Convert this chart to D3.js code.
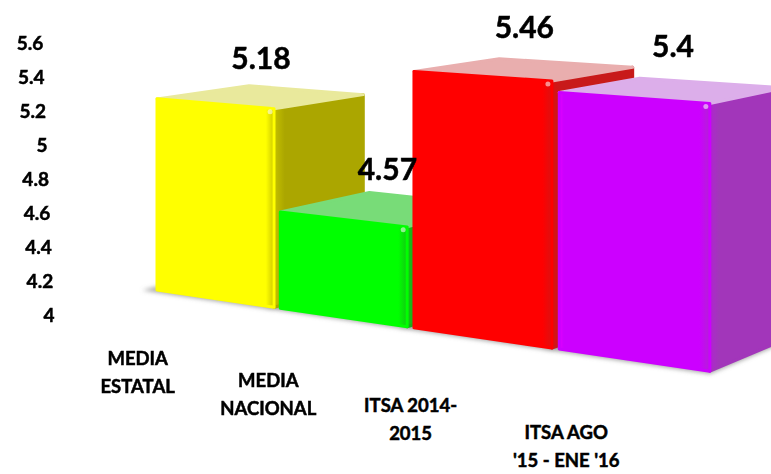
<!DOCTYPE html>
<html lang="es">
<head>
<meta charset="UTF-8">
<script src="https://cdn.jsdelivr.net/npm/d3@7"></script>
<style>
  body { margin: 0; background: #fff; }
  svg { display: block; }
  text { font-family: Lato, "Open Sans", sans-serif; font-weight: bold; fill: #000; stroke: #000; stroke-width: 0.5px; }
</style>
</head>
<body>
<svg></svg>
<script>
// chart data
var categories = ["MEDIA ESTATAL", "MEDIA NACIONAL", "ITSA 2014-2015", "ITSA AGO '15 - ENE '16"];
var labelLines = [["MEDIA", "ESTATAL"], ["MEDIA", "NACIONAL"], ["ITSA 2014-", "2015"], ["ITSA AGO", "'15 - ENE '16"]];
var values = [5.18, 4.57, 5.46, 5.4];
var yTicks = [4, 4.2, 4.4, 4.6, 4.8, 5, 5.2, 5.4, 5.6];
var yTickLabels = ["4", "4.2", "4.4", "4.6", "4.8", "5", "5.2", "5.4", "5.6"];
var frontColors = ["#ffff00", "#00ff00", "#ff0000", "#cc00ff"];
var sideColors = ["#aba600", "#1ea51e", "#c81a1a", "#a236ba"];
var topColors = ["#e9e99c", "#78dc78", "#e9aeae", "#dcaeea"];

var W = 771, H = 474;
var svg = d3.select("svg").attr("width", W).attr("height", H);

// simple perspective camera
var f = 2288, cx = 385, cy = -160, camH = 196.7;
var orig = {X: -99.65, Z: 1000};
var d1 = [0.821, -0.570], d2 = [0.570, 0.821];
var depth = 65;

function project(u, h, z) {
  var X = orig.X + d1[0] * u + d2[0] * z;
  var Z = orig.Z + d1[1] * u + d2[1] * z;
  return [cx + f * X / Z, cy + f * (camH - h) / Z];
}

var x = d3.scaleBand().domain(categories).range([0, 267.9]).paddingInner(0.0487).paddingOuter(0);
var y = d3.scaleLinear().domain([4, 5.6]).range([0, 113.3]);

var data = categories.map(function(c, i) {
  return {cat: c, value: values[i], i: i};
});

var line = d3.line();
var defs = svg.append("defs");

defs.append("filter").attr("id", "blur")
  .attr("x", "-20%").attr("y", "-50%").attr("width", "140%").attr("height", "200%")
  .append("feGaussianBlur").attr("stdDeviation", 2);

data.forEach(function(d) {
  var g = defs.append("linearGradient").attr("id", "front" + d.i)
    .attr("x1", 0).attr("x2", 1).attr("y1", 0).attr("y2", 0);
  var c = d3.color(frontColors[d.i]);
  g.append("stop").attr("offset", 0).attr("stop-color", c.brighter(0.3));
  g.append("stop").attr("offset", 0.03).attr("stop-color", c);
  g.append("stop").attr("offset", 0.93).attr("stop-color", c);
  g.append("stop").attr("offset", 1).attr("stop-color", d3.interpolateRgb(frontColors[d.i], sideColors[d.i])(0.6));

  var s = defs.append("linearGradient").attr("id", "side" + d.i)
    .attr("x1", 0).attr("x2", 1).attr("y1", 0).attr("y2", 0);
  s.append("stop").attr("offset", 0).attr("stop-color", d3.interpolateRgb(frontColors[d.i], sideColors[d.i])(0.7));
  s.append("stop").attr("offset", 0.12).attr("stop-color", sideColors[d.i]);
  s.append("stop").attr("offset", 1).attr("stop-color", sideColors[d.i]);
});

// floor shadows
var shadow = svg.append("g").attr("filter", "url(#blur)");
data.forEach(function(d) {
  var u0 = x(d.cat) - 5, u1 = x(d.cat) + x.bandwidth() + 2;
  var pts = [project(u0, 0, -4), project(u1, 0, -4), project(u1, 0, depth + 3), project(u0, 0, depth + 3)];
  shadow.append("path").attr("d", line(pts) + "Z").attr("fill", "#8a8a8a").attr("opacity", 0.75);
});

// bars, left to right (right ones are closer)
var bars = svg.append("g");
data.forEach(function(d) {
  var u0 = x(d.cat), u1 = x(d.cat) + x.bandwidth();
  var h = y(d.value);
  var g = bars.append("g");
  var side = [project(u1, 0, 0), project(u1, 0, depth), project(u1, h, depth), project(u1, h, 0)];
  var top = [project(u0, h, 0), project(u1, h, 0), project(u1, h, depth), project(u0, h, depth)];
  var front = [project(u0, 0, 0), project(u1, 0, 0), project(u1, h, 0), project(u0, h, 0)];
  g.append("path").attr("d", line(side) + "Z").attr("fill", "url(#side" + d.i + ")")
    .attr("stroke", sideColors[d.i]).attr("stroke-width", 3).attr("stroke-linejoin", "round");
  g.append("path").attr("d", line(top) + "Z").attr("fill", topColors[d.i])
    .attr("stroke", topColors[d.i]).attr("stroke-width", 3).attr("stroke-linejoin", "round");
  g.append("path").attr("d", line(front) + "Z").attr("fill", "url(#front" + d.i + ")")
    .attr("stroke", frontColors[d.i]).attr("stroke-width", 3).attr("stroke-linejoin", "round");
  // small highlight on top right corner
  var hl = project(u1, h, 0);
  g.append("circle").attr("cx", hl[0] - 4).attr("cy", hl[1] + 3).attr("r", 2.5)
    .attr("fill", "#fff").attr("opacity", 0.55);
});

// value labels
svg.append("g").selectAll("text").data(data).enter().append("text")
  .attr("text-anchor", "middle")
  .attr("font-size", 30)
  .attr("x", function(d) { return project(x(d.cat) + x.bandwidth() / 2, y(d.value + 0.24), depth / 2)[0]; })
  .attr("y", function(d) { return project(x(d.cat) + x.bandwidth() / 2, y(d.value + 0.24), depth / 2)[1]; })
  .attr("dy", "0.36em")
  .text(function(d) { return d.value; });

// value axis labels
svg.append("g").selectAll("text").data(yTicks).enter().append("text")
  .attr("text-anchor", "end")
  .attr("font-size", 19)
  .attr("x", function(t) { return project(0, y(t), -depth - 0.06 * y(t))[0]; })
  .attr("y", function(t) { return project(0, y(t), -depth - 0.06 * y(t))[1]; })
  .attr("dy", "0.36em")
  .text(function(t, i) { return yTickLabels[i]; });

// category labels
var catG = svg.append("g").selectAll("text").data(data).enter().append("text")
  .attr("text-anchor", "middle")
  .attr("font-size", 18.5)
  .attr("transform", function(d) {
    var p = project(x(d.cat) + x.bandwidth() / 2, -22, -50);
    return "translate(" + p[0] + "," + p[1] + ")";
  });
catG.selectAll("tspan").data(function(d) { return labelLines[d.i]; }).enter().append("tspan")
  .attr("x", 0)
  .attr("y", function(s, j) { return (j - 0.5) * 28; })
  .attr("dy", "0.36em")
  .text(function(s) { return s; });
</script>
</body>
</html>
